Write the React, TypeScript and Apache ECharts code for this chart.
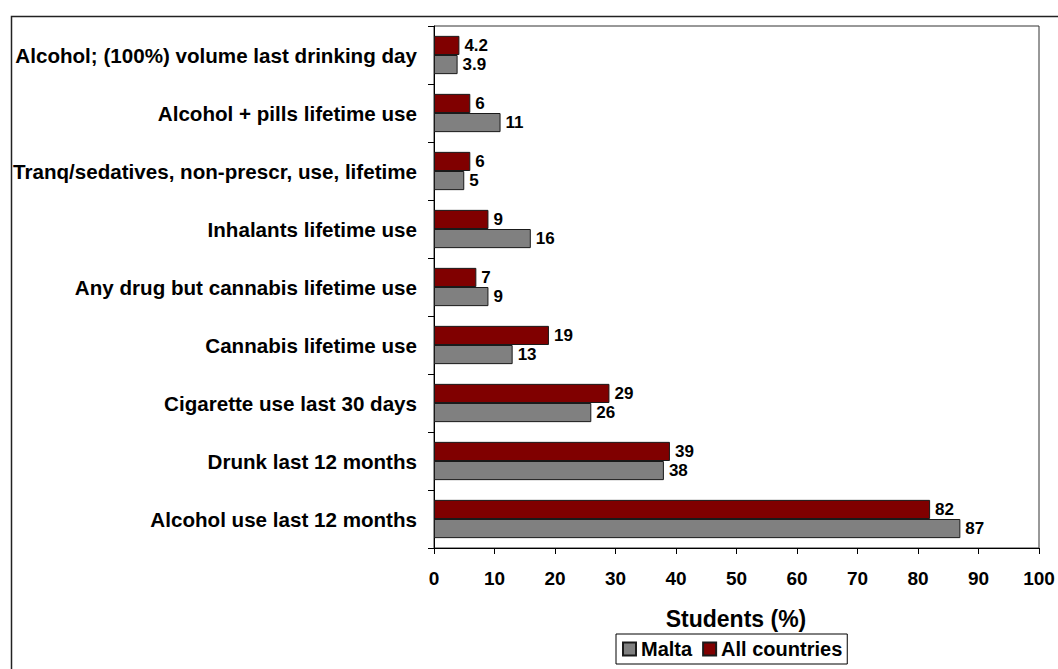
import React, { useEffect, useRef } from 'react';
import * as echarts from 'echarts';

const categories = [
  'Alcohol use last 12 months',
  'Drunk last 12 months',
  'Cigarette use last 30 days',
  'Cannabis lifetime use',
  'Any drug but cannabis lifetime use',
  'Inhalants lifetime use',
  'Tranq/sedatives, non-prescr, use, lifetime',
  'Alcohol + pills lifetime use',
  'Alcohol; (100%) volume last drinking day',
];
const malta = [87, 38, 26, 13, 9, 16, 5, 11, 3.9];
const allCountries = [82, 39, 29, 19, 7, 9, 6, 6, 4.2];
const xMin = 0;
const xMax = 100;
const xInterval = 10;
const xAxisTitle = 'Students (%)';
const seriesNames = ['Malta', 'All countries'];

const FONT = '"Liberation Sans", Arial, sans-serif';

export default function App() {
  const ref = useRef<HTMLDivElement>(null);
  useEffect(() => {
    if (!ref.current) return;
    const chart = echarts.init(ref.current, undefined, { renderer: 'svg' });
    const labelStyle = {
      show: true,
      position: 'right',
      distance: 5,
      color: '#000',
      fontSize: 17,
      fontWeight: 'bold',
      fontFamily: FONT,
    };
    chart.setOption({
      animation: false,
      backgroundColor: '#fff',
      textStyle: { fontFamily: FONT },
      grid: {
        left: 434,
        right: 19,
        top: 26,
        bottom: 121,
        show: true,
        borderColor: '#333',
        borderWidth: 1,
        backgroundColor: 'transparent',
      },
      legend: {
        left: 616,
        top: 634,
        orient: 'horizontal',
        data: seriesNames,
        itemWidth: 13,
        itemHeight: 13,
        itemGap: 10,
        padding: [5, 5, 5, 6],
        borderColor: '#000',
        borderWidth: 1,
        icon: 'rect',
        textStyle: { fontSize: 20, fontWeight: 'bold', color: '#000', fontFamily: FONT },
      },
      xAxis: {
        type: 'value',
        min: xMin,
        max: xMax,
        interval: xInterval,
        axisLine: { show: true, lineStyle: { color: '#000', width: 1 } },
        axisTick: { show: true, length: 6, lineStyle: { color: '#000' } },
        splitLine: { show: false },
        axisLabel: {
          margin: 21,
          fontSize: 19,
          fontWeight: 'bold',
          color: '#000',
          fontFamily: FONT,
        },
      },
      yAxis: {
        type: 'category',
        data: categories,
        axisLine: { show: true, lineStyle: { color: '#000', width: 1 } },
        axisTick: { show: true, length: 6, lineStyle: { color: '#000' } },
        axisLabel: {
          margin: 17,
          fontSize: 20.6,
          fontWeight: 'bold',
          color: '#000',
          fontFamily: FONT,
        },
      },
      graphic: [
        {
          type: 'rect',
          left: 9,
          top: 14,
          shape: { width: 1100, height: 700 },
          style: { fill: 'none', stroke: '#222', lineWidth: 1.5 },
          silent: true,
        },
        {
          type: 'text',
          x: 736,
          y: 619,
          style: {
            text: xAxisTitle,
            fontSize: 23,
            fontWeight: 'bold',
            fill: '#000',
            fontFamily: FONT,
            textAlign: 'center',
            textVerticalAlign: 'middle',
          },
        },
      ],
      series: [
        {
          name: seriesNames[1],
          type: 'bar',
          data: allCountries,
          barGap: '0%',
          barCategoryGap: '34%',
          itemStyle: { color: '#800000', borderColor: '#1a1a1a', borderWidth: 1 },
          label: labelStyle,
        },
        {
          name: seriesNames[0],
          type: 'bar',
          data: malta,
          barGap: '0%',
          barCategoryGap: '34%',
          itemStyle: { color: '#808080', borderColor: '#1a1a1a', borderWidth: 1 },
          label: labelStyle,
        },
      ],
    });
    return () => chart.dispose();
  }, []);
  return (
    <div
      ref={ref}
      style={{ position: 'fixed', left: 0, top: 0, width: 1058, height: 669, background: '#fff' }}
    />
  );
}
